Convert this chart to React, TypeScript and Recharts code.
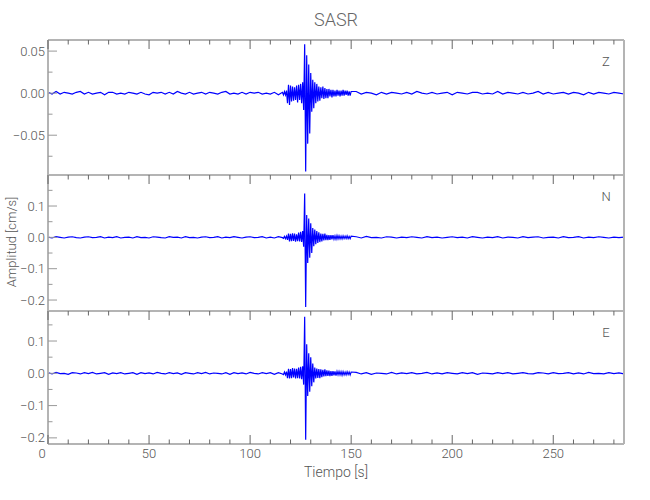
import { LineChart, Line, XAxis, YAxis } from 'recharts';

// sample times in seconds (coarse before/after the event, 0.5 s around it)
const seconds = [
  0, 2, 4, 6, 8, 10, 12, 14, 16, 18, 20, 22, 24, 26, 28, 30, 32, 34, 36, 38,
  40, 42, 44, 46, 48, 50, 52, 54, 56, 58, 60, 62, 64, 66, 68, 70, 72, 74, 76, 78,
  80, 82, 84, 86, 88, 90, 92, 94, 96, 98, 100, 102, 104, 106, 108, 110, 112, 114, 116,
  116.5, 117, 117.5, 118, 118.5, 119, 119.5, 120, 120.5, 121,
  121.5, 122, 122.5, 123, 123.5, 124, 124.5, 125, 125.5, 126,
  126.5, 127, 127.5, 128, 128.5, 129, 129.5, 130, 130.5, 131,
  131.5, 132, 132.5, 133, 133.5, 134, 134.5, 135, 135.5, 136,
  136.5, 137, 137.5, 138, 138.5, 139, 139.5, 140, 140.5, 141,
  141.5, 142, 142.5, 143, 143.5, 144, 144.5, 145, 145.5, 146,
  146.5, 147, 147.5, 148, 148.5, 149, 149.5, 150,
  152.5, 155, 157.5, 160, 162.5, 165, 167.5, 170, 172.5, 175, 177.5, 180,
  182.5, 185, 187.5, 190, 192.5, 195, 197.5, 200, 202.5, 205, 207.5, 210,
  212.5, 215, 217.5, 220, 222.5, 225, 227.5, 230, 232.5, 235, 237.5, 240,
  242.5, 245, 247.5, 250, 252.5, 255, 257.5, 260, 262.5, 265, 267.5, 270,
  272.5, 275, 277.5, 280, 282.5, 285,
];

// vertical component (cm/s)
const zValues = [
  0.001, -0.001, 0.002, -0.001, 0.001, 0.0, -0.001, 0.001, 0.002, -0.001,
  0.001, -0.001, 0.0, 0.001, -0.002, 0.001, 0.001, -0.001, 0.0, -0.001,
  0.001, 0.0, -0.001, 0.001, -0.001, -0.002, 0.001, 0.0, 0.001, -0.001,
  0.001, -0.001, 0.002, 0.0, -0.001, 0.001, -0.001, 0.0, 0.001, -0.001,
  0.001, 0.0, -0.001, 0.001, 0.002, -0.001, 0.0, -0.001, 0.001, -0.001,
  0.001, 0.0, 0.001, -0.001, 0.0, -0.001, 0.001, -0.002, 0.001,
  -0.002, 0.002, -0.002, 0.003, -0.012, 0.010, -0.014, 0.009, -0.010, 0.008,
  -0.009, 0.007, -0.008, 0.009, -0.011, 0.010, -0.008, 0.011, -0.012, 0.013,
  -0.020, 0.058, -0.093, 0.045, -0.060, 0.034, -0.048, 0.024, -0.022, 0.016,
  -0.018, 0.013, -0.012, 0.011, -0.010, 0.008, -0.009, 0.007, -0.006, 0.008,
  -0.007, 0.006, -0.006, 0.005, -0.006, 0.005, -0.004, 0.004, -0.005, 0.004,
  -0.004, 0.003, -0.004, 0.004, -0.003, 0.003, -0.004, 0.003, -0.003, 0.004,
  -0.003, 0.003, -0.002, 0.003, -0.003, 0.002, -0.003, 0.002,
  0.002, -0.001, 0.001, 0.0, -0.002, 0.001, -0.001, 0.001, 0.0, -0.001,
  0.001, -0.001, 0.002, 0.0, -0.001, 0.001, -0.001, 0.0, 0.001, -0.002,
  0.001, 0.0, -0.001, 0.001, 0.001, -0.001, 0.0, -0.001, 0.002, -0.001,
  0.001, 0.0, -0.001, 0.001, -0.001, 0.0, 0.002, -0.001, 0.001, -0.001,
  0.0, 0.001, -0.001, 0.001, 0.0, -0.002, 0.001, -0.001, 0.001, 0.0,
  -0.001, 0.001, 0.0, -0.001,
];

// north component
const nValues = [
  0.001, -0.002, 0.002, 0.0, -0.002, 0.001, 0.002, -0.001, -0.002, 0.001,
  0.002, -0.001, 0.0, 0.002, -0.002, 0.001, -0.001, 0.002, -0.002, 0.0,
  0.001, -0.002, 0.002, -0.001, 0.0, -0.002, 0.002, 0.001, -0.001, -0.002,
  0.002, 0.0, 0.001, -0.002, 0.002, -0.001, 0.0, -0.002, 0.001, 0.002,
  -0.001, 0.0, 0.002, -0.002, 0.001, -0.001, 0.002, 0.0, -0.002, 0.001,
  0.002, -0.001, 0.0, 0.002, -0.002, 0.001, -0.002, 0.002, -0.001,
  -0.003, 0.003, -0.004, 0.004, -0.008, 0.012, -0.013, 0.011, -0.012, 0.013,
  -0.011, 0.012, -0.014, 0.010, -0.012, 0.015, -0.013, 0.018, -0.015, 0.020,
  -0.030, 0.140, -0.222, 0.071, -0.082, 0.060, -0.065, 0.045, -0.050, 0.030,
  -0.028, 0.025, -0.022, 0.020, -0.018, 0.016, -0.015, 0.012, -0.013, 0.011,
  -0.010, 0.012, -0.009, 0.008, -0.009, 0.007, -0.008, 0.007, -0.006, 0.007,
  -0.006, 0.005, -0.006, 0.006, -0.005, 0.005, -0.005, 0.004, -0.005, 0.005,
  -0.004, 0.004, -0.004, 0.005, -0.004, 0.003, -0.004, 0.004,
  0.002, -0.002, 0.003, -0.001, 0.0, -0.002, 0.002, 0.001, -0.002, 0.001,
  -0.001, 0.002, 0.0, -0.002, 0.002, -0.001, 0.001, -0.002, 0.0, 0.002,
  -0.001, 0.001, -0.002, 0.002, 0.0, -0.002, 0.001, -0.001, 0.002, -0.002,
  0.001, 0.0, -0.002, 0.002, -0.001, 0.001, 0.002, -0.002, 0.0, 0.001,
  -0.002, 0.002, -0.001, 0.0, 0.002, -0.002, 0.001, -0.001, 0.002, 0.0,
  -0.002, 0.001, -0.001, 0.001,
];

// east component
const eValues = [
  0.002, -0.002, 0.003, -0.001, 0.0, -0.003, 0.002, 0.001, -0.002, 0.002,
  -0.001, 0.003, -0.002, 0.0, 0.002, -0.003, 0.001, -0.001, 0.002, -0.002,
  0.0, 0.002, -0.003, 0.002, -0.001, 0.001, -0.002, 0.003, 0.0, -0.002,
  0.002, -0.001, 0.001, -0.003, 0.002, 0.0, -0.002, 0.002, -0.001, 0.003,
  -0.002, 0.001, 0.0, -0.002, 0.002, -0.003, 0.002, -0.001, 0.001, -0.002,
  0.003, 0.0, -0.002, 0.002, -0.001, 0.002, -0.003, 0.002, -0.002,
  -0.004, 0.004, -0.005, 0.005, -0.015, 0.014, -0.016, 0.013, -0.015, 0.016,
  -0.013, 0.015, -0.016, 0.014, -0.015, 0.018, -0.016, 0.020, -0.018, 0.022,
  -0.035, 0.175, -0.206, 0.090, -0.070, 0.062, -0.057, 0.050, -0.040, 0.030,
  -0.028, 0.018, -0.016, 0.015, -0.014, 0.013, -0.015, 0.012, -0.012, 0.011,
  -0.010, 0.012, -0.009, 0.009, -0.008, 0.008, -0.009, 0.007, -0.008, 0.007,
  -0.006, 0.006, -0.007, 0.006, -0.005, 0.006, -0.005, 0.005, -0.006, 0.005,
  -0.005, 0.004, -0.005, 0.005, -0.004, 0.004, -0.005, 0.004,
  0.003, -0.002, 0.002, -0.003, 0.001, 0.0, -0.002, 0.003, -0.002, 0.001,
  -0.001, 0.002, -0.002, 0.0, 0.003, -0.002, 0.001, -0.002, 0.002, 0.0,
  -0.002, 0.002, -0.001, 0.002, -0.003, 0.001, 0.0, -0.002, 0.002, -0.001,
  0.002, -0.002, 0.0, 0.002, -0.001, -0.002, 0.002, 0.001, -0.002, 0.002,
  -0.001, 0.0, 0.002, -0.002, 0.001, -0.002, 0.003, -0.001, 0.0, -0.002,
  0.002, -0.001, 0.001, -0.002,
];

const timeTicks = [
  0, 10, 20, 30, 40, 50, 60, 70, 80, 90, 100, 110, 120, 130, 140,
  150, 160, 170, 180, 190, 200, 210, 220, 230, 240, 250, 260, 270, 280,
];
const timeLabels = [0, 50, 100, 150, 200, 250];

const zTicks = [-0.075, -0.05, -0.025, 0, 0.025, 0.05];
const zLabels = [-0.05, 0, 0.05];
const neTicks = [-0.2, -0.15, -0.1, -0.05, 0, 0.05, 0.1, 0.15];
const neLabels = [-0.2, -0.1, 0, 0.1];

const rows = seconds.map((t, i) => ({ t, z: zValues[i], n: nValues[i], e: eValues[i] }));

const FONT = "Roboto, 'Liberation Sans Narrow', sans-serif";
const AXIS = '#b4b4b4';
const TEXT = '#555';

const panels = [
  { key: 'z', name: 'Z', top: 40, bottom: 175, domain: [-0.0973, 0.0632], ticks: zTicks, labels: zLabels, digits: 2 },
  { key: 'n', name: 'N', top: 175, bottom: 311, domain: [-0.235, 0.199], ticks: neTicks, labels: neLabels, digits: 1 },
  { key: 'e', name: 'E', top: 311, bottom: 444, domain: [-0.219, 0.193], ticks: neTicks, labels: neLabels, digits: 1 },
];

const has = (list: number[], v: number) => list.some((m) => Math.abs(m - v) < 1e-9);
const fmt = (v: number, d: number) => (v < 0 ? '\u2212' : '') + Math.abs(v).toFixed(d);

function TimeTick(props: any) {
  const { x, y, payload, dir, showLabel } = props;
  const major = has(timeLabels, payload.value);
  const len = major ? 9 : 4.5;
  return (
    <g>
      <line x1={x} x2={x} y1={y} y2={y + dir * len} stroke="#666" strokeWidth={1} />
      {showLabel && major && (
        <text x={payload.value === 0 ? x - 6 : x} y={y + 14} textAnchor="middle" fill={TEXT} fontSize={13} fontFamily={FONT} fontWeight={300}>
          {payload.value}
        </text>
      )}
    </g>
  );
}

function AmpTick(props: any) {
  const { x, y, payload, dir, labels, digits, showLabel } = props;
  const major = has(labels, payload.value);
  const len = major ? 9 : 4.5;
  return (
    <g>
      <line x1={x} x2={x + dir * len} y1={y} y2={y} stroke="#999" strokeWidth={1} />
      {showLabel && major && (
        <text x={x - 3} y={y} dy="0.35em" textAnchor="end" fill={TEXT} fontSize={13} fontFamily={FONT} fontWeight={300}>
          {fmt(payload.value, digits)}
        </text>
      )}
    </g>
  );
}

export default function App() {
  return (
    <div style={{ position: 'relative', width: 650, height: 500, background: '#fff' }}>
      <style>{'body{margin:0}'}</style>
      {panels.map((p, idx) => {
        const last = idx === panels.length - 1;
        return (
          <div key={p.key} style={{ position: 'absolute', left: 0, top: 0 }}>
            <LineChart
              width={650}
              height={500}
              data={rows}
              margin={{ top: p.top - 10, right: 6, bottom: 500 - p.bottom - (last ? 30 : 0), left: 8 }}
            >
              <XAxis
                xAxisId="top"
                orientation="top"
                type="number"
                dataKey="t"
                domain={[0, 285]}
                ticks={timeTicks}
                interval={0}
                height={10}
                tickSize={0}
                tickMargin={0}
                tickLine={false}
                axisLine={{ stroke: AXIS, strokeWidth: 2 }}
                tick={(tp: any) => <TimeTick {...tp} dir={1} showLabel={false} />}
              />
              {last && (
                <XAxis
                  xAxisId="bottom"
                  orientation="bottom"
                  type="number"
                  dataKey="t"
                  domain={[0, 285]}
                  ticks={timeTicks}
                  interval={0}
                  height={30}
                  tickSize={0}
                  tickMargin={0}
                  tickLine={false}
                  axisLine={{ stroke: AXIS, strokeWidth: 2 }}
                  tick={(tp: any) => <TimeTick {...tp} dir={-1} showLabel />}
                />
              )}
              <YAxis
                yAxisId="left"
                type="number"
                domain={p.domain}
                ticks={p.ticks}
                interval={0}
                width={40}
                tickSize={0}
                tickMargin={0}
                tickLine={false}
                axisLine={{ stroke: AXIS, strokeWidth: 2 }}
                tick={(tp: any) => <AmpTick {...tp} dir={1} labels={p.labels} digits={p.digits} showLabel />}
              />
              <YAxis
                yAxisId="right"
                orientation="right"
                type="number"
                domain={p.domain}
                ticks={p.ticks}
                interval={0}
                width={20}
                tickSize={0}
                tickMargin={0}
                tickLine={false}
                axisLine={{ stroke: AXIS, strokeWidth: 2 }}
                tick={(tp: any) => <AmpTick {...tp} dir={-1} labels={p.labels} digits={p.digits} showLabel={false} />}
              />
              <Line
                xAxisId="top"
                yAxisId="left"
                type="linear"
                dataKey={p.key}
                stroke="#0000ff"
                strokeWidth={1.2}
                dot={false}
                isAnimationActive={false}
              />
            </LineChart>
          </div>
        );
      })}
      <svg width={650} height={500} style={{ position: 'absolute', left: 0, top: 0, pointerEvents: 'none' }}>
        <text x={336} y={26} textAnchor="middle" fill="#666" fontSize={18} fontFamily={FONT} fontWeight={300}>
          SASR
        </text>
        {panels.map((p) => (
          <text key={p.key} x={606} y={p.top + 26} textAnchor="middle" fill={TEXT} fontSize={13} fontFamily={FONT} fontWeight={300}>
            {p.name}
          </text>
        ))}
        <text
          x={16}
          y={242}
          transform="rotate(-90 16 242)"
          textAnchor="middle"
          fill={TEXT}
          fontSize={13}
          fontFamily={FONT}
          fontWeight={300}
        >
          Amplitud [cm/s]
        </text>
        <text x={336} y={477} textAnchor="middle" fill={TEXT} fontSize={14} fontFamily={FONT} fontWeight={300}>
          Tiempo [s]
        </text>
      </svg>
    </div>
  );
}
